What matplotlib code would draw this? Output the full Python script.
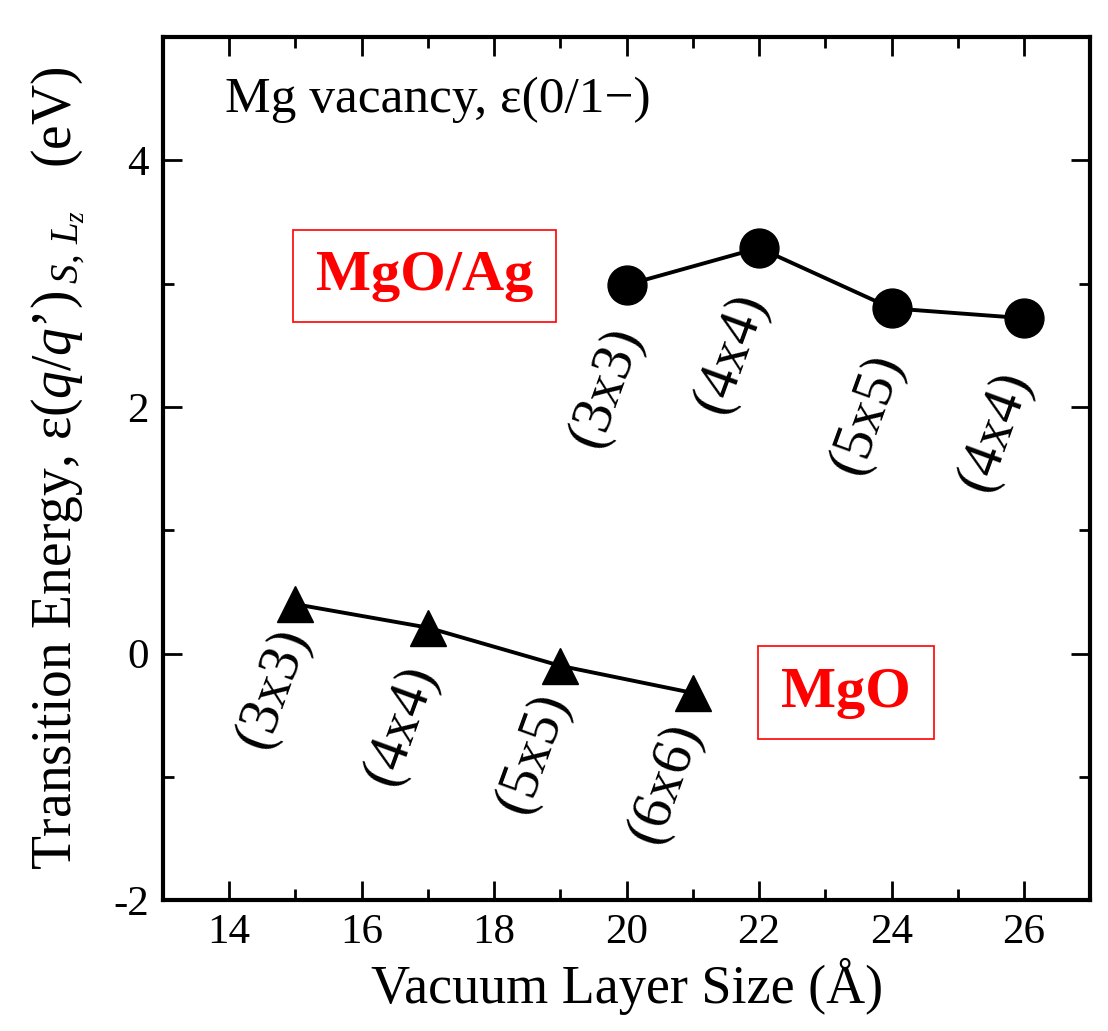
import matplotlib
matplotlib.use("Agg")
import matplotlib.pyplot as plt
from matplotlib.patches import Rectangle
from matplotlib.ticker import MultipleLocator

plt.rcParams['font.family'] = ['Liberation Serif', 'DejaVu Serif']
plt.rcParams['mathtext.fontset'] = 'custom'
plt.rcParams['mathtext.rm'] = 'Liberation Serif'
plt.rcParams['mathtext.it'] = 'Liberation Serif:italic'
plt.rcParams['axes.unicode_minus'] = False

# Data
mgo_x = [15, 17, 19, 21]
mgo_y = [0.40, 0.21, -0.10, -0.32]
mgo_labels = ["(3x3)", "(4x4)", "(5x5)", "(6x6)"]

ag_x = [20, 22, 24, 26]
ag_y = [2.99, 3.29, 2.80, 2.72]
ag_labels = ["(3x3)", "(4x4)", "(5x5)", "(4x4)"]

x_ticks = [14, 16, 18, 20, 22, 24, 26]
y_ticks = [-2, 0, 2, 4]

# label offsets in pixels (dx, dy) relative to the markers
mgo_off = [(-22, -84), (-27, -97), (-27, -87), (-28, -90)]
ag_off = [(-20, -102), (-28, -105), (-24, -106), (-29, -113)]

fig = plt.figure(figsize=(11.08, 10.31), dpi=100)
ax = fig.add_axes([0.147, 0.127, 0.837, 0.837])

ax.plot(mgo_x, mgo_y, color='black', lw=2.8, marker='^', ms=26, zorder=3)
ax.plot(ag_x, ag_y, color='black', lw=2.8, marker='o', ms=28, zorder=3)

for x, y, lab, (dx, dy) in zip(mgo_x, mgo_y, mgo_labels, mgo_off):
    ax.annotate(lab, (x, y), xytext=(dx, dy), textcoords='offset pixels',
                rotation=70, ha='center', va='center', fontsize=41)
for x, y, lab, (dx, dy) in zip(ag_x, ag_y, ag_labels, ag_off):
    ax.annotate(lab, (x, y), xytext=(dx, dy), textcoords='offset pixels',
                rotation=70, ha='center', va='center', fontsize=41)

ax.set_xlim(13, 27)
ax.set_ylim(-2, 5)
ax.set_xticks(x_ticks)
ax.set_yticks(y_ticks)
ax.xaxis.set_minor_locator(MultipleLocator(1))
ax.yaxis.set_minor_locator(MultipleLocator(1))
ax.tick_params(which='both', direction='in', top=True, right=True, width=2.0)
ax.tick_params(which='major', length=14, labelsize=31, pad=10)
ax.tick_params(which='minor', length=8)
for s in ax.spines.values():
    s.set_linewidth(3.0)

ax.set_xlabel("Vacuum Layer Size (Å)", fontsize=39, labelpad=4)
ax.set_ylabel(r"Transition Energy, ε($q$/$q$’)$\,_{S,\,L_z}$   (eV)", fontsize=40, labelpad=18)

ax.text(0.067, 0.927, "Mg vacancy, ε(0/1−)", transform=ax.transAxes,
        fontsize=37, ha='left', va='center')

ax.add_patch(Rectangle((0.140, 0.670), 0.284, 0.106, transform=ax.transAxes,
                       fill=False, edgecolor='red', lw=1.2))
ax.text(0.282, 0.723, "MgO/Ag", transform=ax.transAxes, color='red',
        fontsize=42, fontweight='bold', ha='center', va='center')
ax.add_patch(Rectangle((0.642, 0.187), 0.189, 0.107, transform=ax.transAxes,
                       fill=False, edgecolor='red', lw=1.2))
ax.text(0.736, 0.240, "MgO", transform=ax.transAxes, color='red',
        fontsize=42, fontweight='bold', ha='center', va='center')

fig.savefig("out.png", dpi=100)
